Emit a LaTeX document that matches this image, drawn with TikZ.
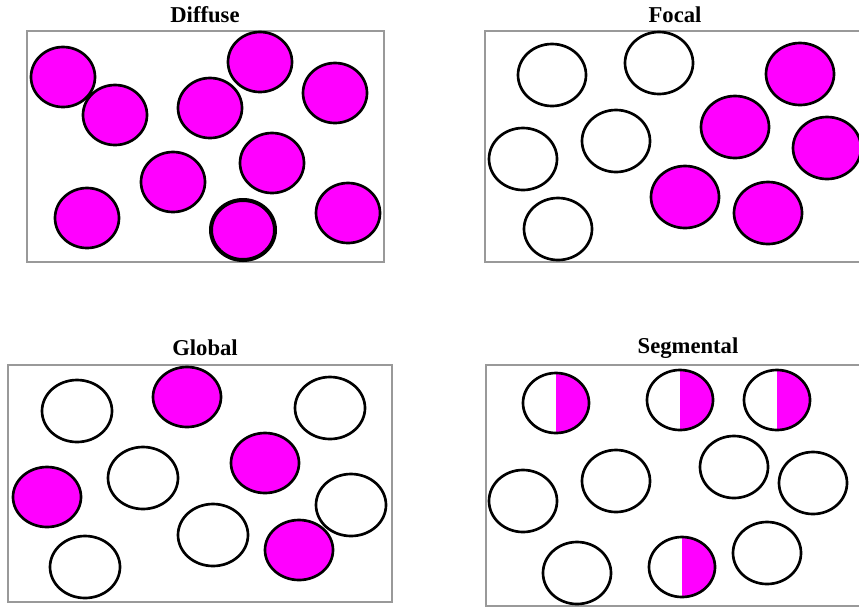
\documentclass[tikz,border=0pt]{standalone}
\usepackage{fontspec}
\setmainfont{Liberation Serif}
\definecolor{mag}{HTML}{FF00FF}
\definecolor{boxgray}{HTML}{999999}
\tikzset{
  ring/.style={draw=black,line width=2pt},
  full/.style={ring,fill=mag},
  boxline/.style={draw=boxgray,line width=2pt},
  ttl/.style={font=\bfseries\fontsize{17}{17}\selectfont,inner sep=0pt}
}
\begin{document}
\begin{tikzpicture}[x=0.75pt,y=-0.75pt]
\useasboundingbox (0,0) rectangle (859,608);
\fill[white] (0,0) rectangle (859,608);
% titles
\node[ttl] (t1) at (205,15) {Diffuse};
\node[ttl] (t2) at (675,15) {Focal};
\node[ttl] (t3) at (205,348) {Global};
\node[ttl] (t4) at (688,348) {Segmental};
% boxes
\draw[boxline] (27,31) rectangle (384,262);
\draw[boxline] (859,31) -- (485,31) -- (485,262) -- (859,262);
\draw[boxline] (8,365) rectangle (392,602);
\draw[boxline] (859,365) -- (486,365) -- (486,606) -- (859,606);
% Diffuse
\foreach \x/\y in {63/77,115/115,210/108,260/62,335/93,173/182,272/163,87/218,348/213}
  \draw[full] (\x,\y) ellipse [x radius=32, y radius=30];
\draw[full,line width=3pt] (243,230) ellipse [x radius=32, y radius=30];
% Focal
\foreach \x/\y in {552/75,659/63,616/141,523/159,558/229}
  \draw[ring] (\x,\y) ellipse [x radius=34, y radius=31];
\foreach \x/\y in {800/74,735/127,827/148,685/197,768/213}
  \draw[full] (\x,\y) ellipse [x radius=34, y radius=31];
% Global
\foreach \x/\y in {77/411,330/408,143/478,351/505,213/535,85/567}
  \draw[ring] (\x,\y) ellipse [x radius=35, y radius=31];
\foreach \x/\y in {187/397,265/463,47/497,299/550}
  \draw[full] (\x,\y) ellipse [x radius=34, y radius=30];
% Segmental
\foreach \x/\y in {523/501,616/481,734/467,813/483,767/553,577/573}
  \draw[ring] (\x,\y) ellipse [x radius=34, y radius=31];
\foreach \x/\y in {556/403,680/400,777/400,682/567}{
  \begin{scope}
    \clip (\x,\y-40) rectangle (\x+40,\y+40);
    \fill[mag] (\x,\y) ellipse [x radius=33, y radius=30];
  \end{scope}
  \draw[ring] (\x,\y) ellipse [x radius=33, y radius=30];
}
\end{tikzpicture}
\end{document}
